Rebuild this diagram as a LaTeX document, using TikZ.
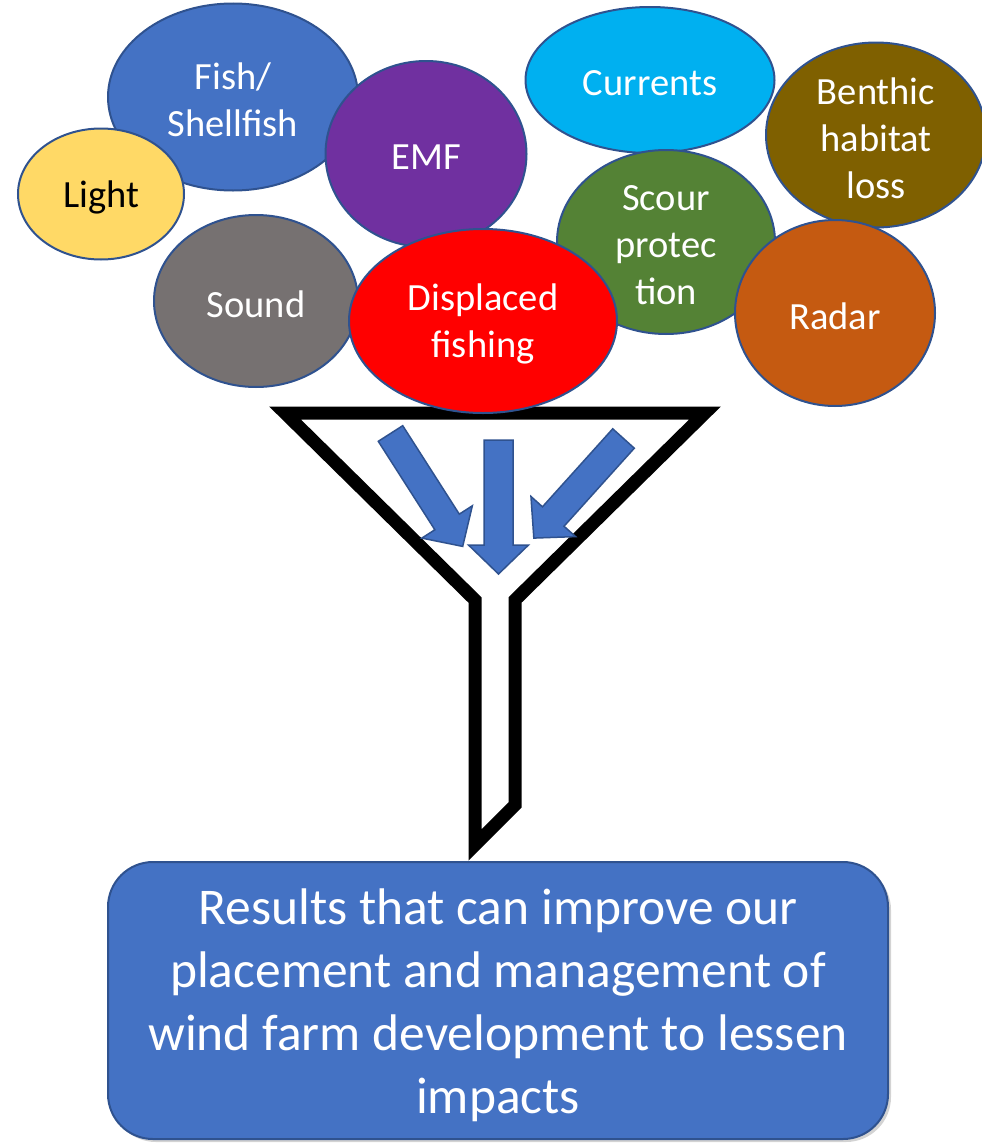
\documentclass[tikz,border=0pt]{standalone}
\usepackage{fontspec}
\setmainfont{Carlito}
\usetikzlibrary{shapes.geometric,shadows}

\definecolor{edgeblue}{HTML}{2F528F}
\definecolor{fishblue}{HTML}{4472C4}
\definecolor{lightyellow}{HTML}{FFD966}
\definecolor{emfpurple}{HTML}{7030A0}
\definecolor{currentcyan}{HTML}{00B0F0}
\definecolor{benthicbrown}{HTML}{7F6000}
\definecolor{scourgreen}{HTML}{548235}
\definecolor{soundgray}{HTML}{767171}
\definecolor{fishingred}{HTML}{FF0000}
\definecolor{radarorange}{HTML}{C55A11}

\tikzset{
  bubble/.style={ellipse, draw=edgeblue, line width=2pt, inner sep=0pt},
  bubbletext/.style={text=white, align=center, inner sep=0pt, yshift=-3pt,
    font=\fontsize{38.5}{47}\selectfont},
  resultbox/.style={rectangle, rounded corners=45pt, draw=edgeblue, line width=2pt,
    fill=fishblue, inner sep=0pt,
    drop shadow={shadow xshift=3pt, shadow yshift=-3pt, opacity=0.35}},
  resulttext/.style={text=white, align=center, inner sep=0pt, yshift=-5pt,
    font=\fontsize{51.5}{63}\selectfont},
  funnelline/.style={draw=black, line width=13pt, line join=miter, fill=white},
  arrowbody/.style={fill=fishblue, draw=edgeblue, line width=1.5pt, line join=miter},
  blockarrow/.pic={
    \path[arrowbody] (0,-14.5) -- (105,-14.5) -- (105,-30) -- (134,0)
      -- (105,30) -- (105,14.5) -- (0,14.5) -- cycle;
  }
}

\begin{document}
\begin{tikzpicture}[x=1pt,y=1pt]
\useasboundingbox (0,0) rectangle (982,-1143);

% funnel outline
\path[funnelline] (285,-413) -- (705,-413) -- (515,-600) -- (515,-805)
  -- (475,-845) -- (475,-600) -- cycle;

% arrows pouring into the funnel
\pic[rotate=-57.4] at (390.5,-433.5) {blockarrow};
\pic[rotate=-90] at (498.5,-440) {blockarrow};
\pic[rotate=-132] at (623.5,-438.5) {blockarrow};

% impact bubbles
\node[bubble, fill=fishblue, minimum width=250pt, minimum height=187pt] (fish) at (233,-97) {};
\node[bubbletext] (fish-t) at (fish) {Fish/\\Shellfish};

\node[bubble, fill=lightyellow, minimum width=166pt, minimum height=131pt] (light) at (101,-194) {};
\node[bubbletext, text=black] (light-t) at (light) {Light};

\node[bubble, fill=emfpurple, minimum width=201pt, minimum height=186pt] (emf) at (426,-154) {};
\node[bubbletext] (emf-t) at (emf) {EMF};

\node[bubble, fill=currentcyan, minimum width=249pt, minimum height=146pt] (currents) at (650,-80) {};
\node[bubbletext] (currents-t) at (currents) {Currents};

\node[bubble, fill=benthicbrown, minimum width=220pt, minimum height=185pt] (benthic) at (876,-135) {};
\node[bubbletext] (benthic-t) at (benthic) {Benthic\\habitat\\loss};

\node[bubble, fill=scourgreen, minimum width=218pt, minimum height=184pt] (scour) at (666,-242) {};
\node[bubbletext] (scour-t) at (scour) {Scour\\protec\\tion};

\node[bubble, fill=soundgray, minimum width=204pt, minimum height=172pt] (sound) at (256,-301) {};
\node[bubbletext] (sound-t) at (sound) {Sound};

\node[bubble, fill=fishingred, minimum width=268pt, minimum height=184pt] (fishing) at (483,-321) {};
\node[bubbletext] (fishing-t) at (fishing) {Displaced\\fishing};

\node[bubble, fill=radarorange, minimum width=200pt, minimum height=186pt] (radar) at (835,-313) {};
\node[bubbletext] (radar-t) at (radar) {Radar};

% outcome box
\node[resultbox, minimum width=780pt, minimum height=277pt] (result) at (498,-1000.5) {};
\node[resulttext] (result-t) at (result)
  {Results that can improve our\\placement and management of\\wind farm development to lessen\\impacts};
\end{tikzpicture}
\end{document}
